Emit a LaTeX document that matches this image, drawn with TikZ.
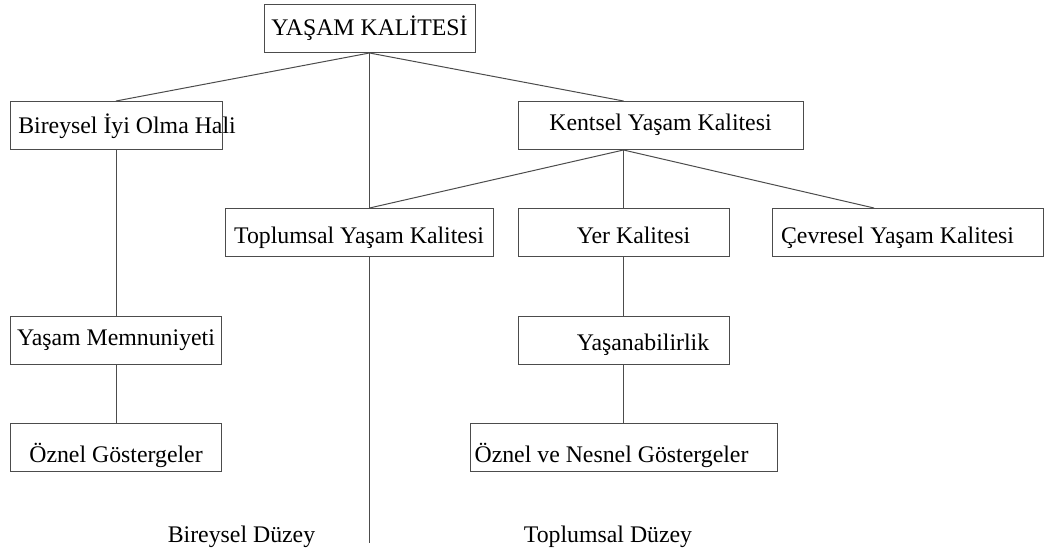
\documentclass[tikz,border=0pt]{standalone}
\usepackage{fontspec}
\setmainfont{Liberation Serif}
\usetikzlibrary{calc}
\definecolor{cizgi}{gray}{0.3}

\begin{document}
\begin{tikzpicture}[x=1pt, y=-1pt]
	\tikzstyle{kutu}=[draw=cizgi, line width=1pt, minimum height=48pt, inner sep=0pt, text height=20pt, text depth=0pt, font=\fontsize{23.8}{28}\selectfont]
	\tikzstyle{bag}=[draw=cizgi, line width=1pt]
	\tikzstyle{duzey}=[anchor=base, inner sep=0pt, font=\fontsize{23.8}{28}\selectfont]
	\def\ust{543};

	\useasboundingbox (0,0) rectangle (1046,552);

	\begin{scope}
		\node [kutu, minimum width=211pt, text height=13pt] (yk) at (369.5,28.5) {YAŞAM KALİTESİ};
		\node [kutu, minimum width=212pt, text height=16pt] (bireysel) at (116,125.5) {\makebox[0pt]{\hspace*{22pt}Bireysel İyi Olma Hali}};
		\node [kutu, minimum width=285pt, text height=10pt] (kentsel) at (660.5,125.5) {Kentsel Yaşam Kalitesi};
	\end{scope}

	\begin{scope}
		\node [kutu, minimum width=268pt, text height=22pt] (toplumsal) at (359,232.5) {Toplumsal Yaşam Kalitesi};
		\node [kutu, minimum width=211pt, text height=21pt] (yer) at (623.5,232.5) {\hspace*{20pt}Yer Kalitesi};
		\node [kutu, minimum width=271pt, text height=21pt] (cevresel) at (907.5,232.5) {Çevresel Yaşam Kalitesi\hspace*{20pt}};
	\end{scope}

	\begin{scope}
		\node [kutu, minimum width=211pt, text height=10pt] (memnuniyet) at (116,340) {Yaşam Memnuniyeti};
		\node [kutu, minimum width=211pt, text height=20pt] (yasanabilirlik) at (623.5,340) {\hspace*{39pt}Yaşanabilirlik};
		\node [kutu, minimum width=211pt, text height=30pt] (oznel) at (116,447) {Öznel Göstergeler};
		\node [kutu, minimum width=307pt, text height=30pt] (oznelnesnel) at (623.5,447) {Öznel ve Nesnel Göstergeler\hspace*{24pt}};
	\end{scope}

	\begin{scope}
		\draw [bag] (yk.south) -- (bireysel.north);
		\draw [bag] (yk.south) -- (yk.south |- toplumsal.north);
		\draw [bag] (yk.south) -- (yer.north |- kentsel.north);
		\draw [bag] (yer.north |- kentsel.south) -- (yk.south |- toplumsal.north);
		\draw [bag] (yer.north |- kentsel.south) -- (yer.north);
		\draw [bag] (yer.north |- kentsel.south) -- ($ (cevresel.north) + (-33.5,0) $);
	\end{scope}

	\begin{scope}
		\draw [bag] (bireysel.south) -- (memnuniyet.north);
		\draw [bag] (memnuniyet.south) -- (oznel.north);
		\draw [bag] (yer.south) -- (yasanabilirlik.north);
		\draw [bag] (yasanabilirlik.south) -- (oznelnesnel.north);
	\end{scope}

	\begin{scope}
		\coordinate (alt) at (370,\ust);
		\draw [bag] (yk.south |- toplumsal.south) -- (yk.south |- alt);
		\node [duzey] (bireyseldz) at (241.5,542) {Bireysel Düzey};
		\node [duzey] (toplumsaldz) at (608,542) {Toplumsal Düzey};
	\end{scope}
\end{tikzpicture}
\end{document}
